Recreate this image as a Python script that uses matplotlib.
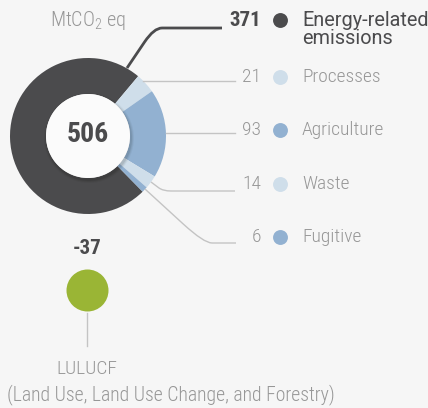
import numpy as np
import matplotlib.pyplot as plt
from matplotlib.path import Path
from matplotlib.patches import PathPatch, Circle

plt.rcParams['font.family'] = ['Roboto Condensed', 'DejaVu Sans']
plt.rcParams['mathtext.fontset'] = 'custom'
plt.rcParams['mathtext.rm'] = 'Roboto Condensed:light'

# data
categories = ['Energy-related', 'Processes', 'Agriculture', 'Waste', 'Fugitive']
values = [371, 21, 93, 14, 6]
colors = ['#4b4b4d', '#cfdeea', '#92b1d1', '#cfdeea', '#92b1d1']
total_label = '506'
lulucf_value = -37

W, H = 428, 408
BG = '#f6f6f6'
GRAY = '#979797'
DARK = '#4b4b4d'

fig = plt.figure(figsize=(W / 100, H / 100), dpi=100, facecolor=BG)
ax = fig.add_axes([0, 0, 1, 1])
ax.set_facecolor(BG)

def Y(y):
    # pixel row -> data y (y up)
    return H - y

cx, cy, r_out, r_in = 88, Y(136), 78, 42

# donut: energy slice ends at 50 deg going clockwise
start = 50 + 360 * values[0] / sum(values)
ax.pie(values, colors=colors, startangle=start, counterclock=False,
       radius=r_out, center=(cx, cy),
       wedgeprops=dict(width=r_out - r_in, edgecolor='none'))

# inner white disc with soft shadow
for k, a in [(6, 0.04), (4, 0.06), (2, 0.08)]:
    ax.add_patch(Circle((cx + 1, cy - 2), r_in + k * 0.5, color='black', alpha=a, lw=0))
ax.add_patch(Circle((cx, cy), r_in, color='#fbfbfb', lw=0, zorder=3))
ax.text(cx, cy + 1, total_label, ha='center', va='center', fontsize=20,
        fontweight='bold', color=DARK, zorder=4)

ax.text(88, Y(20), 'MtCO$_2$ eq', ha='center', va='center', fontsize=14.5,
        fontweight='light', color=GRAY)

# leader lines
def leader(pts, color, lw):
    # pts: start, corner, end (pixel coords), rounded at corner
    (x0, y0), (x1, y1), (x2, y2) = pts
    t = 0.35
    a = (x1 + (x0 - x1) * t, y1 + (y0 - y1) * t) if abs(x0 - x1) + abs(y0 - y1) > 12 else (x0, y0)
    b = (x1 + 8 * np.sign(x2 - x1), y1)
    verts = [(x0, Y(y0)), (a[0], Y(a[1])), (x1, Y(y1)), (b[0], Y(b[1])), (x2, Y(y2))]
    codes = [Path.MOVETO, Path.LINETO, Path.CURVE3, Path.CURVE3, Path.LINETO]
    ax.add_patch(PathPatch(Path(verts, codes), fill=False, edgecolor=color, lw=lw,
                           capstyle='butt', joinstyle='round'))

LINE = '#c4c4c4'
leader([(127, 68), (154, 28), (222, 28)], DARK, 2)
ax.plot([143, 235], [Y(81), Y(81)], color=LINE, lw=1)
ax.plot([166, 235], [Y(133), Y(133)], color=LINE, lw=1)
leader([(151, 182), (163, 191), (235, 191)], LINE, 1)
leader([(145, 189), (204, 243), (236, 243)], LINE, 1)

# legend rows
row_y = [20, 77, 130, 184, 237]
for i, (cat, v, c) in enumerate(zip(categories, values, colors)):
    y = Y(row_y[i])
    if i == 0:
        ax.text(261, y, str(v), ha='right', va='center', fontsize=15,
                fontweight='bold', color=DARK)
        ax.text(302, y, cat, ha='left', va='center', fontsize=14.3,
                family='Roboto', color=DARK)
        ax.text(302, Y(38), 'emissions', ha='left', va='center', fontsize=14.3,
                family='Roboto', color=DARK)
    else:
        ax.text(261, y, str(v), ha='right', va='center', fontsize=14,
                fontweight='light', color=GRAY)
        ax.text(302, y, cat, ha='left', va='center', fontsize=14,
                fontweight='light', color=GRAY)
    ax.scatter([280], [y], s=115, color=c, lw=0, zorder=5)

# LULUCF
ax.text(87, Y(249), str(lulucf_value), ha='center', va='center', fontsize=15,
        fontweight='bold', color=DARK)
ax.scatter([87], [Y(290)], s=(42 * 0.72) ** 2, color='#9ab535', lw=0, zorder=5)
ax.plot([87, 87], [Y(313), Y(346)], color=LINE, lw=1)
ax.text(87, Y(369), 'LULUCF', ha='center', va='center', fontsize=14,
        fontweight='light', color=GRAY)
ax.text(171, Y(395), '(Land Use, Land Use Change, and Forestry)', ha='center',
        va='center', fontsize=14.2, fontweight='light', color=GRAY)

ax.set_xlim(0, W)
ax.set_ylim(0, H)
ax.set_aspect('equal')
ax.axis('off')

fig.savefig('out.png', dpi=100, facecolor=BG)
